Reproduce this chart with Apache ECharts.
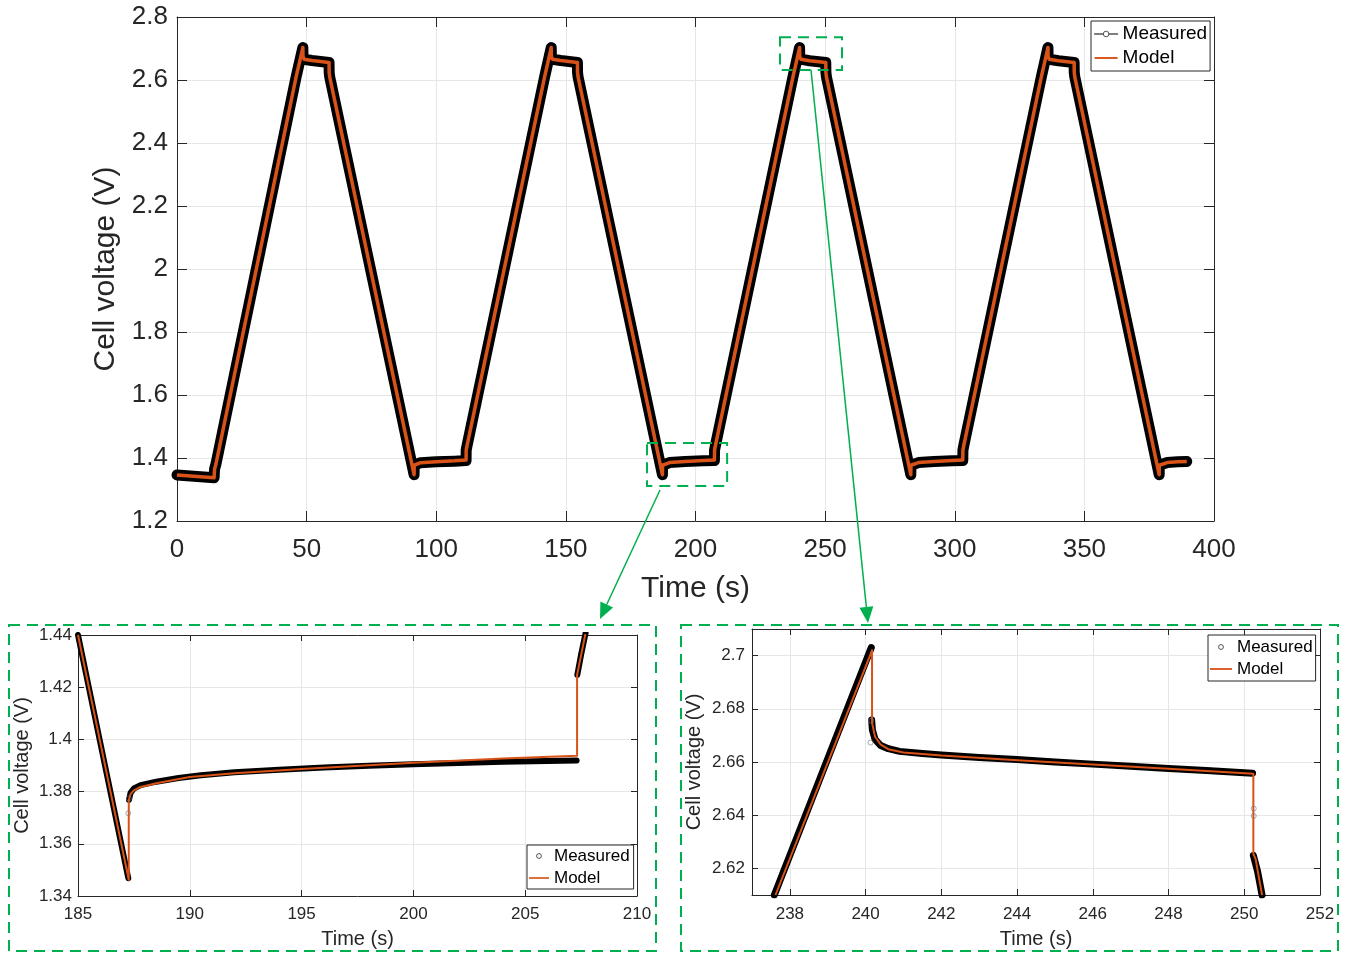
<!DOCTYPE html>
<html>
<head>
<meta charset="utf-8">
<script src="https://cdn.jsdelivr.net/npm/echarts@6.0.0/dist/echarts.min.js"></script>
<style>
html,body{margin:0;padding:0;background:#fff;}
#c{width:1347px;height:954px;}
</style>
</head>
<body>
<div id="c"></div>
<script>
// ---------------- DATA ----------------
// Main chart (full test), time in s, cell voltage in V
const mainTime = [
  0, 14.3, 14.5, 15.0, 45.95, 48.55,
  48.6, 49.0, 52.0, 58.65,
  58.7, 58.9, 91.45,
  91.5, 91.8, 94.0, 100.0, 107.0, 111.5,
  111.55, 111.9, 141.8, 144.35,
  144.4, 144.8, 148.0, 154.45,
  154.5, 154.7, 187.25,
  187.3, 187.6, 190.0, 196.0, 203.0, 207.3,
  207.35, 207.7, 237.6, 240.15,
  240.2, 240.6, 244.0, 250.25,
  250.3, 250.5, 283.05,
  283.1, 283.4, 286.0, 292.0, 299.0, 303.1,
  303.15, 303.5, 333.4, 335.95,
  336.0, 336.4, 340.0, 346.05,
  346.1, 346.3, 378.85,
  378.9, 379.2, 382.0, 386.0, 389.5
];
const mainMeasured = [
  1.346, 1.337, 1.365, 1.380, 2.610, 2.703,
  2.675, 2.666, 2.662, 2.6555,
  2.624, 2.610, 1.347,
  1.377, 1.382, 1.385, 1.388, 1.390, 1.3918,
  1.425, 1.440, 2.610, 2.703,
  2.675, 2.666, 2.662, 2.6555,
  2.624, 2.610, 1.347,
  1.377, 1.382, 1.3855, 1.389, 1.391, 1.3918,
  1.425, 1.440, 2.610, 2.703,
  2.675, 2.666, 2.661, 2.6555,
  2.624, 2.610, 1.347,
  1.377, 1.382, 1.3855, 1.389, 1.391, 1.3918,
  1.425, 1.440, 2.610, 2.703,
  2.675, 2.666, 2.661, 2.6555,
  2.624, 2.610, 1.347,
  1.377, 1.382, 1.3855, 1.388, 1.389
];
const mainModel = [
  1.346, 1.337, 1.365, 1.380, 2.610, 2.703,
  2.675, 2.666, 2.662, 2.6555,
  2.624, 2.610, 1.347,
  1.377, 1.382, 1.385, 1.388, 1.391, 1.394,
  1.425, 1.440, 2.610, 2.703,
  2.675, 2.666, 2.662, 2.6555,
  2.624, 2.610, 1.347,
  1.377, 1.382, 1.3855, 1.389, 1.392, 1.394,
  1.425, 1.440, 2.610, 2.703,
  2.675, 2.666, 2.661, 2.6555,
  2.624, 2.610, 1.347,
  1.377, 1.382, 1.3855, 1.389, 1.392, 1.394,
  1.425, 1.440, 2.610, 2.703,
  2.675, 2.666, 2.661, 2.6555,
  2.624, 2.610, 1.347,
  1.377, 1.382, 1.3855, 1.388, 1.389
];

// Zoom 1 (185 - 210 s)
const leftMeasTime = [185.0, 187.25, 187.25, 187.28, 187.35, 187.5, 187.8, 188.5, 189.5, 190.5, 192.0, 194.0, 196.0, 198.0, 200.0, 202.0, 204.0, 206.0, 207.3, 207.3, 207.33, 207.5, 207.7];
const leftMeasVolt = [1.440, 1.3468, null, 1.3768, 1.3795, 1.3812, 1.3825, 1.3838, 1.3852, 1.3863, 1.3874, 1.3884, 1.3892, 1.3899, 1.3905, 1.3910, 1.3914, 1.3917, 1.3919, null, 1.4247, 1.4325, 1.4407];
const leftModelTime = [185.0, 187.27, 187.27, 187.35, 187.5, 187.8, 188.5, 190.0, 192.0, 195.0, 200.0, 204.0, 207.32, 207.32, 207.7];
const leftModelVolt = [1.440, 1.3462, 1.3768, 1.3790, 1.3805, 1.3818, 1.3832, 1.3856, 1.3870, 1.3887, 1.3911, 1.3927, 1.3937, 1.4247, 1.4407];
const leftOutTime = [187.25, 187.27];
const leftOutVolt = [1.3717, 1.3774];

// Zoom 2 (237 - 252 s)
const rightMeasTime = [237.59, 240.15, 240.15, 240.16, 240.18, 240.25, 240.4, 240.6, 240.9, 241.5, 242.0, 243.0, 244.0, 245.0, 246.0, 247.0, 248.0, 249.0, 250.22, 250.22, 250.24, 250.35, 250.47];
const rightMeasVolt = [2.610, 2.703, null, 2.6758, 2.6720, 2.6685, 2.6662, 2.6650, 2.6640, 2.6632, 2.6626, 2.6617, 2.6609, 2.6600, 2.6592, 2.6584, 2.6576, 2.6568, 2.6558, null, 2.6249, 2.6190, 2.6100];
const rightModelTime = [237.62, 240.17, 240.17, 240.25, 240.4, 240.6, 241.0, 242.0, 244.0, 246.0, 248.0, 250.24, 250.24, 250.3, 250.47];
const rightModelVolt = [2.610, 2.702, 2.6747, 2.6695, 2.6665, 2.6648, 2.6636, 2.6624, 2.6607, 2.6591, 2.6575, 2.6556, 2.6255, 2.6235, 2.6100];
const rightOutTime = [240.13, 240.15, 250.25, 250.25];
const rightOutVolt = [2.6673, 2.6755, 2.6425, 2.6397];

// Axis ranges [min, max, interval] and tick lists
const mainXRange = [0, 400, 50];
const mainYRange = [1.2, 2.8, 0.2];
const leftXRange = [185, 210, 5];
const leftYRange = [1.34, 1.44, 0.02];
const rightXRange = [237, 252];
const rightYRange = [2.61, 2.71];
const rightXTicks = [238, 240, 242, 244, 246, 248, 250, 252];
const rightYTicks = [2.62, 2.64, 2.66, 2.68, 2.70];

// Zoomed regions marked in the main chart [tMin, tMax, vMin, vMax]
const zoomRegion1 = [181.3, 212.2, 1.311, 1.4476];
const zoomRegion2 = [232.6, 256.5, 2.632, 2.736];

// ---------------- STYLE ----------------
const FONT = '"Liberation Sans", Arial, Helvetica, sans-serif';
const AX = '#262626';
const GRIDC = '#e6e6e6';
const ORANGE = '#D95319';
const GREEN = '#00b050';
const LINE_ICON = 'path://M0,0L24,0L24,2L0,2Z';

function pairs(xs, ys) {
  return xs.map((x, i) => (ys[i] === null ? [x, '-'] : [x, ys[i]]));
}
const fmt = v => String(parseFloat(Number(v).toFixed(3)));

function xAxisPair(grid, range, o) {
  const base = {
    type: 'value', gridIndex: grid, min: range[0], max: range[1],
    axisLine: { show: true, onZero: false, lineStyle: { color: AX, width: 1 } },
    axisTick: { show: true, inside: true, length: o.tick, lineStyle: { color: AX, width: 1 } }
  };
  if (range[2] !== undefined) base.interval = range[2];
  if (o.ticks) base.axisTick.customValues = o.ticks;
  const bottom = Object.assign({}, base, {
    position: 'bottom',
    axisTick: Object.assign({}, base.axisTick),
    axisLabel: { show: true, color: AX, fontSize: o.label, fontFamily: FONT, margin: o.margin, formatter: fmt },
    splitLine: { show: true, lineStyle: { color: GRIDC, width: 1 } },
    name: 'Time (s)', nameLocation: 'middle', nameGap: o.nameGap,
    nameTextStyle: { color: AX, fontSize: o.nameSize, fontFamily: FONT }
  });
  if (o.ticks) bottom.axisLabel.customValues = o.ticks;
  const top = Object.assign({}, base, {
    position: 'top',
    axisTick: Object.assign({}, base.axisTick),
    axisLabel: { show: false },
    splitLine: { show: false }
  });
  return [bottom, top];
}
function yAxisPair(grid, range, o) {
  const base = {
    type: 'value', gridIndex: grid, min: range[0], max: range[1],
    axisLine: { show: true, onZero: false, lineStyle: { color: AX, width: 1 } },
    axisTick: { show: true, inside: true, length: o.tick, lineStyle: { color: AX, width: 1 } }
  };
  if (range[2] !== undefined) base.interval = range[2];
  if (o.ticks) base.axisTick.customValues = o.ticks;
  const left = Object.assign({}, base, {
    position: 'left',
    axisTick: Object.assign({}, base.axisTick),
    axisLabel: { show: true, color: AX, fontSize: o.label, fontFamily: FONT, margin: o.margin, formatter: fmt },
    splitLine: { show: true, lineStyle: { color: GRIDC, width: 1 } },
    name: 'Cell voltage (V)', nameLocation: 'middle', nameGap: o.nameGap,
    nameTextStyle: { color: AX, fontSize: o.nameSize, fontFamily: FONT }
  });
  if (o.ticks) left.axisLabel.customValues = o.ticks;
  const right = Object.assign({}, base, {
    position: 'right',
    axisTick: Object.assign({}, base.axisTick),
    axisLabel: { show: false },
    splitLine: { show: false }
  });
  return [left, right];
}

function legendBox(idx, left, top, fontSize, padding, itemW, itemH, measuredLine) {
  return {
    show: true, orient: 'vertical', left: left, top: top,
    padding: padding, itemGap: 2, itemWidth: itemW, itemHeight: itemH,
    selectedMode: false,
    backgroundColor: '#fff', borderColor: AX, borderWidth: 1, borderRadius: 0,
    textStyle: { color: '#000', fontSize: fontSize, fontFamily: FONT, lineHeight: fontSize + 3 },
    formatter: n => n.split('#')[0],
    data: [
      { name: 'Measured#' + idx,
        itemStyle: { color: '#fff', borderColor: '#555', borderWidth: 1 },
        lineStyle: measuredLine ? { color: '#000', width: 1.2 } : { color: 'rgba(0,0,0,0)', width: 0, opacity: 0 } },
      { name: 'Model#' + idx, icon: LINE_ICON, itemStyle: { color: ORANGE, borderWidth: 0 } }
    ]
  };
}

const xMain = xAxisPair(0, mainXRange, { tick: 10, label: 26, margin: 16, nameGap: 53, nameSize: 30 });
const xLeft = xAxisPair(1, leftXRange, { tick: 6, label: 17, margin: 10, nameGap: 33, nameSize: 20 });
const xRight = xAxisPair(2, rightXRange, { tick: 6, label: 17, margin: 11, nameGap: 34, nameSize: 20, ticks: rightXTicks });
const yMain = yAxisPair(0, mainYRange, { tick: 10, label: 26, margin: 9, nameGap: 52, nameSize: 30 });
const yLeft = yAxisPair(1, leftYRange, { tick: 6, label: 17, margin: 6, nameGap: 46, nameSize: 20 });
const yRight = yAxisPair(2, rightYRange, { tick: 6, label: 17, margin: 7, nameGap: 48, nameSize: 20, ticks: rightYTicks });

const lineBase = { type: 'line', showSymbol: false, silent: true, animation: false, emphasis: { disabled: true } };

const option = {
  animation: false,
  backgroundColor: '#fff',
  textStyle: { fontFamily: FONT },
  grid: [
    { left: 177, top: 17, right: 133, bottom: 433, outerBoundsMode: 'none', containLabel: false },
    { left: 78, top: 635, right: 710, bottom: 58, outerBoundsMode: 'none', containLabel: false },
    { left: 752, top: 629, right: 27, bottom: 59, outerBoundsMode: 'none', containLabel: false }
  ],
  xAxis: [xMain[0], xMain[1], xLeft[0], xLeft[1], xRight[0], xRight[1]],
  yAxis: [yMain[0], yMain[1], yLeft[0], yLeft[1], yRight[0], yRight[1]],
  legend: [
    legendBox(0, 1091, 21, 19, [2, 3, 2, 3], 23, 7, true),
    legendBox(1, 527, 845, 17, [1, 4, 1, 2], 20, 6, false),
    legendBox(2, 1208, 635, 17, [2, 3, 2, 2], 22, 6, false)
  ],
  series: [
    // main
    Object.assign({}, lineBase, {
      name: 'Measured#0', xAxisIndex: 0, yAxisIndex: 0, clip: false, z: 2,
      symbol: 'circle', itemStyle: { color: '#000' },
      lineStyle: { color: '#000', width: 11, cap: 'round', join: 'round' },
      data: pairs(mainTime, mainMeasured)
    }),
    Object.assign({}, lineBase, {
      name: 'Model#0', xAxisIndex: 0, yAxisIndex: 0, clip: false, z: 3,
      symbol: 'none', itemStyle: { color: ORANGE },
      lineStyle: { color: ORANGE, width: 3.5, join: 'round' },
      data: pairs(mainTime, mainModel)
    }),
    // zoom 1
    Object.assign({}, lineBase, {
      name: 'Measured#1', xAxisIndex: 2, yAxisIndex: 2, z: 2, connectNulls: false,
      symbol: 'circle', itemStyle: { color: '#000' },
      lineStyle: { color: '#000', width: 6, cap: 'round', join: 'round' },
      data: pairs(leftMeasTime, leftMeasVolt)
    }),
    Object.assign({}, lineBase, {
      name: 'Model#1', xAxisIndex: 2, yAxisIndex: 2, z: 3,
      symbol: 'none', itemStyle: { color: ORANGE },
      lineStyle: { color: ORANGE, width: 2, join: 'round' },
      data: pairs(leftModelTime, leftModelVolt)
    }),
    {
      type: 'scatter', name: 'outliers1', xAxisIndex: 2, yAxisIndex: 2, z: 4, silent: true,
      symbol: 'circle', symbolSize: 5,
      itemStyle: { color: 'rgba(255,255,255,0)', borderColor: '#777', borderWidth: 0.8 },
      data: pairs(leftOutTime, leftOutVolt)
    },
    // zoom 2
    Object.assign({}, lineBase, {
      name: 'Measured#2', xAxisIndex: 4, yAxisIndex: 4, z: 2, connectNulls: false,
      symbol: 'circle', itemStyle: { color: '#000' },
      lineStyle: { color: '#000', width: 7, cap: 'round', join: 'round' },
      data: pairs(rightMeasTime, rightMeasVolt)
    }),
    Object.assign({}, lineBase, {
      name: 'Model#2', xAxisIndex: 4, yAxisIndex: 4, z: 3,
      symbol: 'none', itemStyle: { color: ORANGE },
      lineStyle: { color: ORANGE, width: 2, join: 'round' },
      data: pairs(rightModelTime, rightModelVolt)
    }),
    {
      type: 'scatter', name: 'outliers2', xAxisIndex: 4, yAxisIndex: 4, z: 4, silent: true,
      symbol: 'circle', symbolSize: 5,
      itemStyle: { color: 'rgba(255,255,255,0)', borderColor: '#777', borderWidth: 0.8 },
      data: pairs(rightOutTime, rightOutVolt)
    }
  ]
};

const chart = echarts.init(document.getElementById('c'), null, { renderer: 'canvas', width: 1347, height: 954 });
chart.setOption(option);

// ---------------- ANNOTATIONS ----------------
function regionRect(r) {
  const p1 = chart.convertToPixel({ xAxisIndex: 0, yAxisIndex: 0 }, [r[0], r[3]]);
  const p2 = chart.convertToPixel({ xAxisIndex: 0, yAxisIndex: 0 }, [r[1], r[2]]);
  return { x: p1[0], y: p1[1], width: p2[0] - p1[0], height: p2[1] - p1[1] };
}
const dashStyle = { fill: 'none', stroke: GREEN, lineWidth: 2, lineDash: [11, 7] };
function arrow(x1, y1, x2, y2) {
  const dx = x2 - x1, dy = y2 - y1, L = Math.sqrt(dx * dx + dy * dy);
  const ux = dx / L, uy = dy / L, len = 16, hw = 7;
  const bx = x2 - ux * len, by = y2 - uy * len;
  return [
    { type: 'line', z: 100, silent: true, shape: { x1: x1, y1: y1, x2: bx, y2: by }, style: { stroke: GREEN, lineWidth: 1.5 } },
    { type: 'polygon', z: 100, silent: true,
      shape: { points: [[x2, y2], [bx - uy * hw, by + ux * hw], [bx + uy * hw, by - ux * hw]] },
      style: { fill: GREEN } }
  ];
}
const r1 = regionRect(zoomRegion1);
const r2 = regionRect(zoomRegion2);
const graphics = [
  { type: 'rect', z: 100, silent: true, shape: r1, style: dashStyle },
  { type: 'rect', z: 100, silent: true, shape: r2, style: dashStyle },
  { type: 'rect', z: 100, silent: true, shape: { x: 9, y: 625, width: 647, height: 326 }, style: dashStyle },
  { type: 'rect', z: 100, silent: true, shape: { x: 681, y: 625, width: 657, height: 326 }, style: dashStyle }
].concat(
  arrow(r1.x + 13, r1.y + r1.height + 4, 600, 619),
  arrow(r2.x + r2.width / 2, r2.y + r2.height, 868, 623)
);
chart.setOption({ graphic: graphics });
</script>
</body>
</html>
